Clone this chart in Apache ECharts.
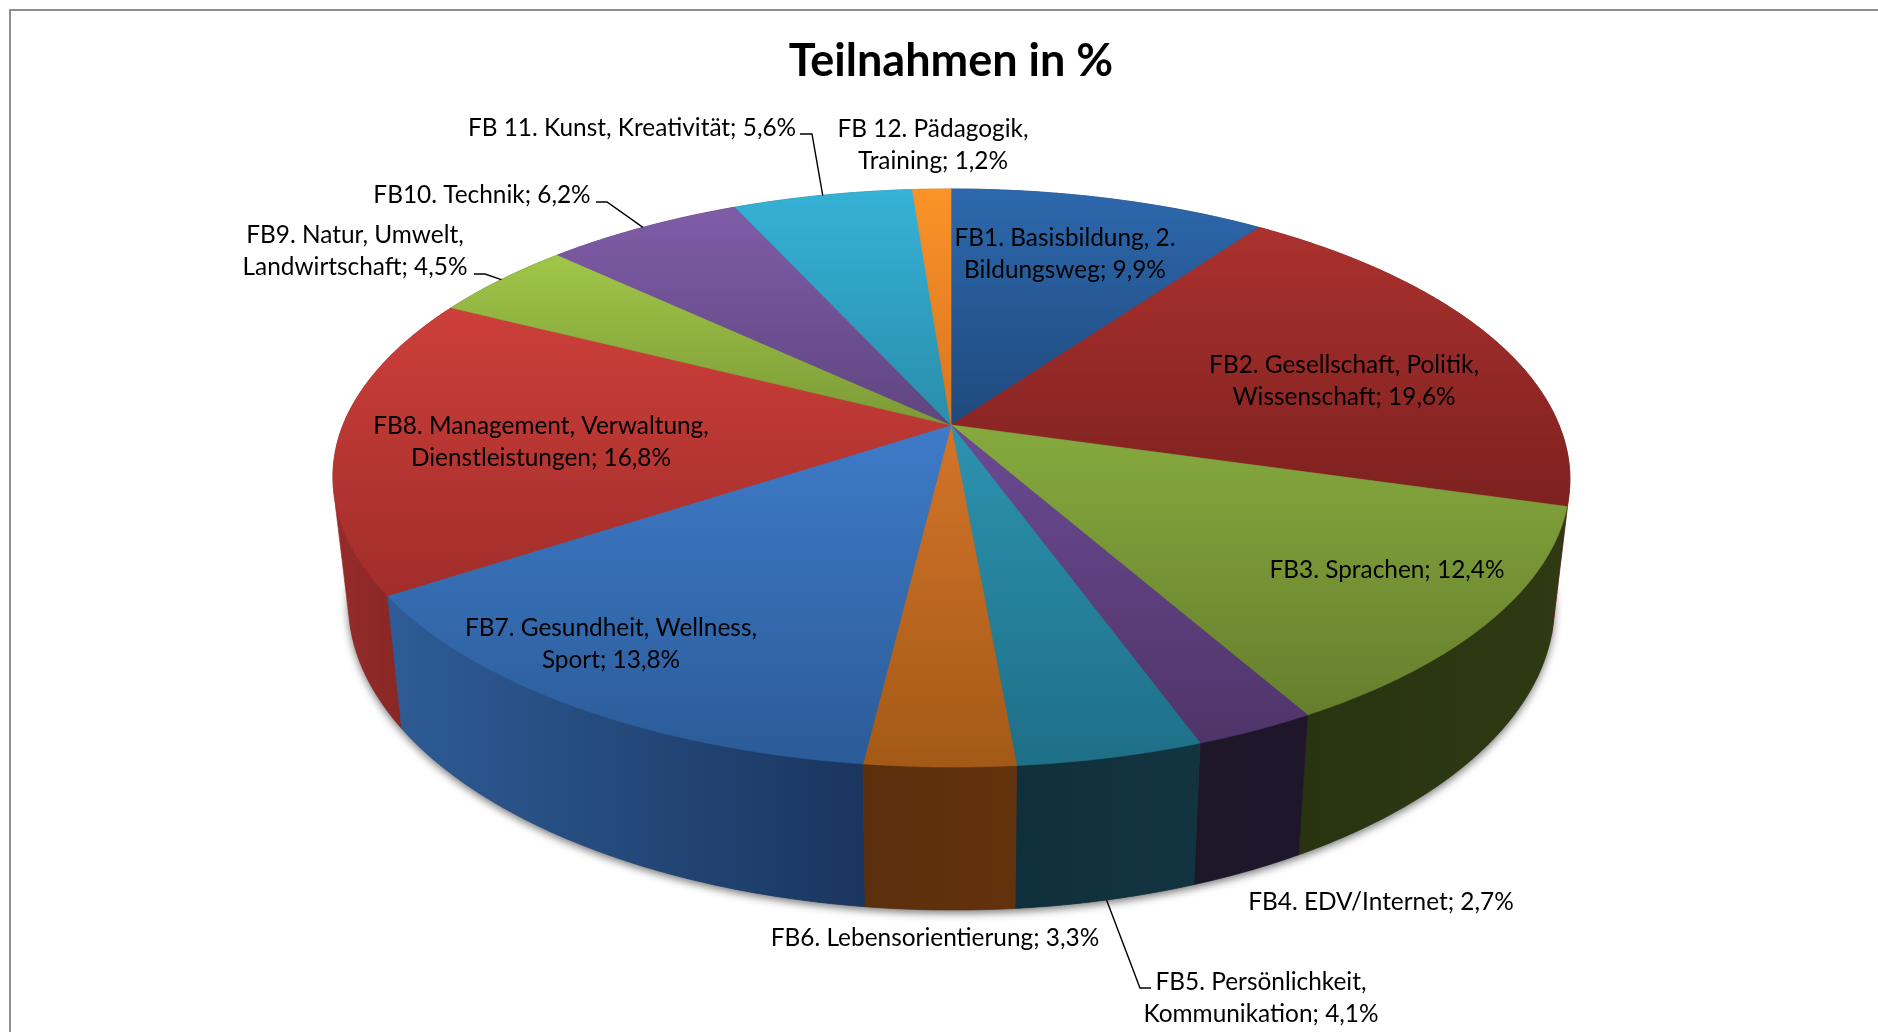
<!DOCTYPE html>
<html><head><meta charset="utf-8">
<style>html,body{margin:0;padding:0;background:#fff}#c{width:1878px;height:1032px}</style>
<script src="https://cdn.jsdelivr.net/npm/echarts@6/dist/echarts.min.js"></script>
</head><body><div id="c"></div>
<script>
// ---- data ----
const categories = [
  "FB1. Basisbildung, 2.\nBildungsweg",
  "FB2. Gesellschaft, Politik,\nWissenschaft",
  "FB3. Sprachen",
  "FB4. EDV/Internet",
  "FB5. Persönlichkeit,\nKommunikation",
  "FB6. Lebensorientierung",
  "FB7. Gesundheit, Wellness,\nSport",
  "FB8. Management, Verwaltung,\nDienstleistungen",
  "FB9. Natur, Umwelt,\nLandwirtschaft",
  "FB10. Technik",
  "FB 11. Kunst, Kreativität",
  "FB 12. Pädagogik,\nTraining"
];
const values = [9.9, 19.6, 12.4, 2.7, 4.1, 3.3, 13.8, 16.8, 4.5, 6.2, 5.6, 1.2];
const titleText = "Teilnahmen in %";

// ---- styles ----
const topColors = [
  ["#2d68ad","#1f497c"],["#ab312e","#7d211f"],["#86aa3e","#667e2d"],["#6b4a93","#4f3468"],
  ["#2c93b0","#1e6f87"],["#d4742a","#a35a16"],["#3e7bc8","#2b5b98"],["#cd3f3a","#a12d2a"],
  ["#a0c648","#7c9a37"],["#7f5ca8","#5f4580"],["#35b2d6","#2a8dab"],["#fb9328","#d8751f"]
];
const rimColors = [
  ["#1c3f6c","#1c3f6c"],["#7a201e","#7a201e"],["#283410","#2f3a14"],["#1e1629","#1f162b"],
  ["#0f2f3b","#123440"],["#5c2f0c","#62320d"],["#2e5c96","#1a355f"],["#962c2a","#7b2321"],
  ["#5a7027","#5a7027"],["#45305f","#45305f"],["#1c6b80","#1c6b80"],["#a85e10","#a85e10"]
];
// label centres in page pixels
const labelPos = [[1065,254],[1344,381],[1387,570],[1381,902],[1261,998],[935,938],[611,644],[541,442],[355,251],[482,195],[632,128],[933,145]];
// leader lines: index, start point beside the label, elbow (ends on the rim, computed from the data)
const leaders = [
  {i:4, from:[1151,988], elbow:[1140,988], wall:true},
  {i:8, from:[474,274], elbow:[485,274]},
  {i:9, from:[596,202], elbow:[607,202]},
  {i:10, from:[800,134], elbow:[812,134]}
];
const FONT = "Lato, 'Open Sans', sans-serif";
const P = {cx:951, cy:425, A:608, B:279.3, p:0.1834, shear:0.008, sx:0.975, sy:1.06, dy:122.5};

// ---- projection of the tilted disc ----
const cum = values.reduce((a,v,i)=>{a.push(i?a[i-1]+values[i-1]:0);return a;},[]);
const total = values.reduce((a,b)=>a+b,0);
function pct2ang(p){return p/total*2*Math.PI;}
function topPt(a){
  const u=Math.sin(a), v=-Math.cos(a), d=1-P.p*v, y=P.B*v/d;
  return [P.cx+P.A*u/d+(y>0?P.shear*y:0), P.cy+y];
}
function botPt(a){
  const t=topPt(a);
  return [P.cx+(t[0]-P.cx)*P.sx, P.cy+(t[1]-P.cy)*P.sy+P.dy];
}
function arc(fn,a0,a1){
  const n=Math.max(2,Math.ceil((a1-a0)/0.008)), out=[];
  for(let k=0;k<=n;k++) out.push(fn(a0+(a1-a0)*k/n));
  return out;
}
// convex hull: the wall of a slice is the area swept between its upper and lower arc
function hull(pts){
  const s=pts.slice().sort((a,b)=>a[0]-b[0]||a[1]-b[1]);
  const cross=(o,a,b)=>(a[0]-o[0])*(b[1]-o[1])-(a[1]-o[1])*(b[0]-o[0]);
  const half=list=>{const h=[];for(const p of list){while(h.length>1&&cross(h[h.length-2],h[h.length-1],p)<=0)h.pop();h.push(p);}h.pop();return h;};
  return half(s).concat(half(s.slice().reverse()));
}
function grad(c,horizontal){
  return new echarts.graphic.LinearGradient(0,0,horizontal?1:0,horizontal?0:1,[{offset:0,color:c[0]},{offset:1,color:c[1]}]);
}
const rows = values.map((v,i)=>[v,cum[i]]);

const option = {
  animation:false,
  backgroundColor:"#fff",
  title:{text:titleText,left:946,top:34,textAlign:"center",
    textStyle:{fontFamily:FONT,fontSize:45,fontWeight:"bold",color:"#000"}},
  graphic:[{type:"polyline",silent:true,shape:{points:[[10,1040],[10,10],[1890,10]]},
    style:{fill:null,stroke:"#8f8f8f",lineWidth:2}}],
  series:[
    { type:"custom",coordinateSystem:"none",silent:true,data:[[total]],z:1,
      renderItem(){
        return {type:"polygon",shape:{points:arc(botPt,0,2*Math.PI)},
          style:{fill:"#555",shadowBlur:9,shadowColor:"rgba(0,0,0,0.55)",shadowOffsetX:0,shadowOffsetY:3}};
      }},
    { type:"custom",coordinateSystem:"none",silent:true,data:rows,z:2,
      renderItem(params,api){
        const i=params.dataIndex,a0=pct2ang(api.value(1)),a1=pct2ang(api.value(1)+api.value(0));
        const pts=hull(arc(topPt,a0,a1).concat(arc(botPt,a0,a1)));
        const f=grad(rimColors[i],true);
        // walls nearer the viewer are painted over those further round the disc
        const order=Math.round(1000-Math.abs((a0+a1)/2-Math.PI)*100);
        return {type:"polygon",z2:order,shape:{points:pts},style:{fill:f,stroke:f,lineWidth:0.6}};
      }},
    { type:"custom",coordinateSystem:"none",silent:true,data:rows,z:3,
      renderItem(params,api){
        const i=params.dataIndex,a0=pct2ang(api.value(1)),a1=pct2ang(api.value(1)+api.value(0));
        const pts=[[P.cx,P.cy]].concat(arc(topPt,a0,a1));
        const f=grad(topColors[i],false);
        return {type:"polygon",shape:{points:pts},style:{fill:f,stroke:f,lineWidth:0.6}};
      }},
    { type:"custom",coordinateSystem:"none",silent:true,data:rows,z:4,
      renderItem(params,api){
        const i=params.dataIndex;
        const pct=api.value(0).toFixed(1).replace(".",",");
        const kids=[{type:"text",style:{text:categories[i]+"; "+pct+"%",x:labelPos[i][0],y:labelPos[i][1],
          align:"center",verticalAlign:"middle",font:"24.4px "+FONT,lineHeight:32,fill:"#000"}}];
        const l=leaders.find(o=>o.i===i);
        if(l){
          const mid=pct2ang(api.value(1)+api.value(0)/2);
          const end=l.wall?botPt(mid):topPt(mid);
          kids.push({type:"polyline",shape:{points:[l.from,l.elbow,end]},style:{fill:null,stroke:"#000",lineWidth:1.4}});
        }
        return {type:"group",children:kids};
      }}
  ]
};
echarts.init(document.getElementById("c"),null,{renderer:"canvas"}).setOption(option);
</script></body></html>
